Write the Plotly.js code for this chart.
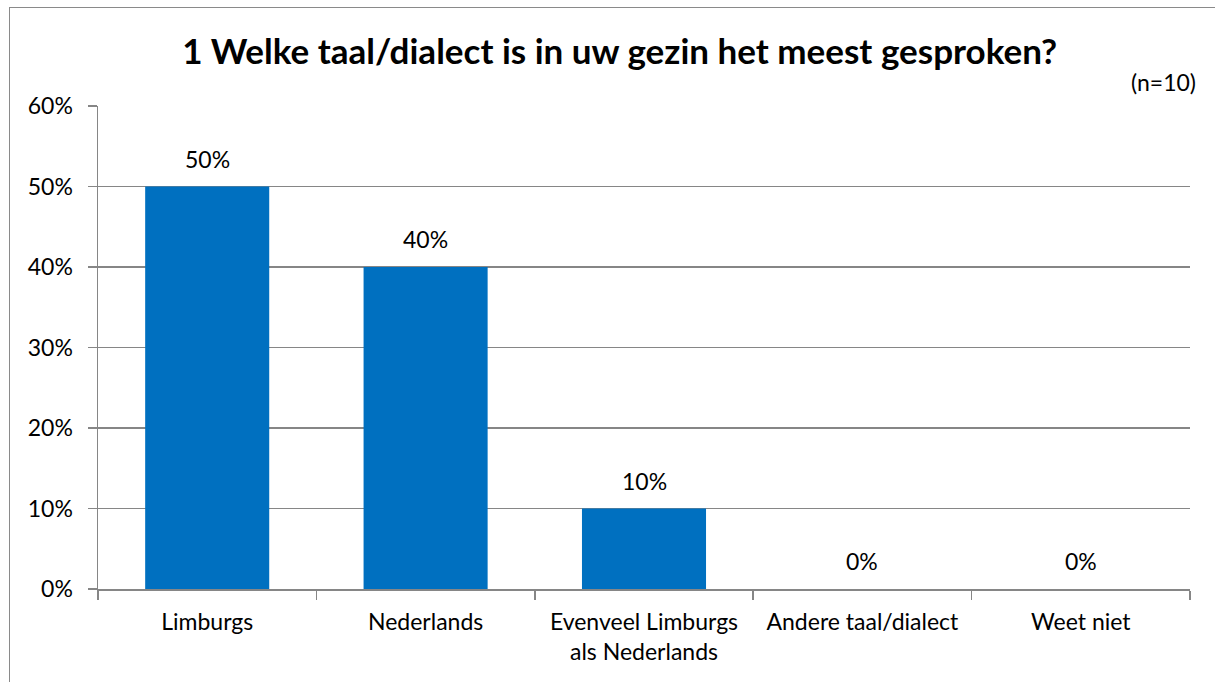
<!DOCTYPE html>
<html>
<head>
<meta charset="utf-8">
<script src="https://cdn.plot.ly/plotly-3.0.1.min.js"></script>
<style>
  html, body { margin: 0; padding: 0; background: #fff; overflow: hidden; }
  #wrap { position: relative; width: 1215px; height: 682px; }
  #chart { width: 1215px; height: 682px; }
  #frame { position: absolute; left: 9px; top: 7px; width: 1300px; height: 800px;
           border-left: 1.5px solid #8a8a8a; border-top: 1.5px solid #8a8a8a; pointer-events: none; }
</style>
</head>
<body>
<div id="wrap">
  <div id="chart"></div>
  <div id="frame"></div>
</div>
<script>
const categories = ["Limburgs", "Nederlands", "Evenveel Limburgs<br>als Nederlands", "Andere taal/dialect", "Weet niet"];
const values = [0.50, 0.40, 0.10, 0.00, 0.00];
const valueLabels = ["50%", "40%", "10%", "0%", "0%"];
const yTickValues = [0, 0.1, 0.2, 0.3, 0.4, 0.5, 0.6];
const yTickLabels = ["0%", "10%", "20%", "30%", "40%", "50%", "60%"];

const FONT = "Lato, 'Open Sans', sans-serif";
const FS = 23;

const trace = {
  type: "bar",
  x: categories,
  y: values,
  marker: { color: "#0070C0" },
  hoverinfo: "none"
};

const annotations = categories.map((c, i) => ({
  x: c, y: values[i], xref: "x", yref: "y",
  text: valueLabels[i], showarrow: false,
  yanchor: "bottom", yshift: 12,
  font: { family: FONT, size: FS, color: "#000" }
}));
annotations.push({
  xref: "paper", yref: "paper", x: 1.0073, y: 1.0497,
  xanchor: "right", yanchor: "middle",
  text: "(n=10)", showarrow: false,
  font: { family: FONT, size: FS, color: "#000" }
});

const layout = {
  width: 1215, height: 682,
  margin: { l: 98, r: 25, t: 106, b: 93 },
  paper_bgcolor: "#fff", plot_bgcolor: "#fff",
  title: {
    text: "<b>1 Welke taal/dialect is in uw gezin het meest gesproken?</b>",
    font: { family: FONT, size: 35, color: "#000" },
    x: 0.51, xanchor: "center", y: 0.924, yanchor: "middle"
  },
  bargap: 0.432,
  showlegend: false,
  xaxis: {
    type: "category",
    tickson: "boundaries",
    ticks: "outside", ticklen: 9, tickcolor: "#868686", tickwidth: 1.5,
    showline: true, linecolor: "#868686", linewidth: 1.5,
    showgrid: false, zeroline: false,
    ticklabelstandoff: 12,
    tickfont: { family: FONT, size: FS, color: "#000" },
    automargin: false
  },
  yaxis: {
    range: [0, 0.6],
    tickvals: yTickValues, ticktext: yTickLabels,
    ticks: "outside", ticklen: 9, tickcolor: "#868686", tickwidth: 1.5,
    showline: true, linecolor: "#868686", linewidth: 1.5,
    showgrid: true, gridcolor: "#868686", gridwidth: 1.5,
    zeroline: false,
    ticklabelstandoff: 10,
    tickfont: { family: FONT, size: FS, color: "#000" },
    automargin: false
  },
  annotations: annotations
};

Plotly.newPlot("chart", [trace], layout, { displayModeBar: false, staticPlot: true });
</script>
</body>
</html>
